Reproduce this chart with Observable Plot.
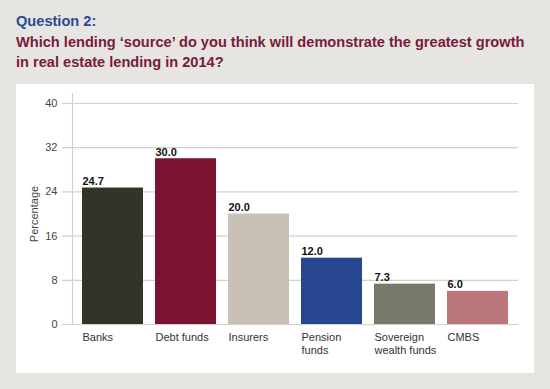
<!DOCTYPE html>
<html>
<head>
<meta charset="utf-8">
<script src="https://cdn.jsdelivr.net/npm/d3@7"></script>
<script src="https://cdn.jsdelivr.net/npm/@observablehq/plot@0.6"></script>
<style>
  html, body { margin: 0; padding: 0; }
  body { width: 550px; height: 389px; background: #e6e5e1; font-family: "Liberation Sans", Arial, Helvetica, sans-serif; overflow: hidden; }
  #wrap { position: relative; width: 550px; height: 389px; }
  .t1 { position: absolute; left: 16px; top: 13px; font-size: 14.6px; font-weight: bold; color: #2b4b93; white-space: nowrap; }
  .t2 { position: absolute; left: 16px; top: 33px; font-size: 14.6px; font-weight: bold; color: #7a1a3c; line-height: 19.5px; white-space: nowrap; }
  #panel { position: absolute; left: 16px; top: 84px; width: 518px; height: 289px; background: #ffffff; }
  #chart { position: absolute; left: 0; top: 84px; }
</style>
</head>
<body>
<div id="wrap">
  <div class="t1">Question 2:</div>
  <div class="t2">Which lending ‘source’ do you think will demonstrate the greatest growth<br>in real estate lending in 2014?</div>
  <div id="panel"></div>
  <div id="chart"></div>
</div>
<script>
const categories = ["Banks", "Debt funds", "Insurers", "Pension funds", "Sovereign wealth funds", "CMBS"];
const tickLabels = ["Banks", "Debt funds", "Insurers", "Pension\nfunds", "Sovereign\nwealth funds", "CMBS"];
const values = [24.7, 30.0, 20.0, 12.0, 7.3, 6.0];
const colors = ["#33332a", "#7a1230", "#c9c1b7", "#264690", "#78796a", "#bb777b"];
const yTicks = [0, 8, 16, 24, 32, 40];

const data = categories.map((c, i) => ({category: c, value: values[i], color: colors[i], label: tickLabels[i]}));
const labelOf = new Map(data.map(d => [d.category, d.label]));

const bandHalf = 30.5;

const chart = Plot.plot({
  width: 550,
  height: 289,
  marginTop: 19,
  marginBottom: 49,
  marginLeft: 72,
  marginRight: 32,
  style: {background: "transparent", fontFamily: "'Liberation Sans', Arial, Helvetica, sans-serif"},
  x: {domain: categories, paddingInner: 0.165, paddingOuter: 0.13},
  y: {domain: [0, 40]},
  marks: [
    Plot.ruleY(yTicks, {stroke: "#d6d0ca", strokeWidth: 1.2, insetLeft: -10}),
    Plot.frame({anchor: "left", stroke: "#d6d0ca", strokeWidth: 1.2, insetTop: -10}),
    Plot.barY(data, {x: "category", y: "value", fill: "color"}),
    Plot.text(data, {
      x: "category", y: "value", text: d => d.value.toFixed(1),
      textAnchor: "start", lineAnchor: "bottom", dx: -bandHalf, dy: -3,
      fontSize: 11, fontWeight: "bold", fill: "#111"
    }),
    Plot.axisY({
      ticks: yTicks, tickSize: 0, tickPadding: 15, fontSize: 11, color: "#444",
      label: "Percentage", labelAnchor: "center", labelOffset: 42, labelArrow: "none"
    }),
    Plot.axisX({
      tickSize: 0, tickPadding: 8, fontSize: 11, color: "#333",
      textAnchor: "start", dx: -bandHalf, lineHeight: 1.15,
      tickFormat: d => labelOf.get(d), label: null
    })
  ]
});
document.getElementById("chart").appendChild(chart);
</script>
</body>
</html>
